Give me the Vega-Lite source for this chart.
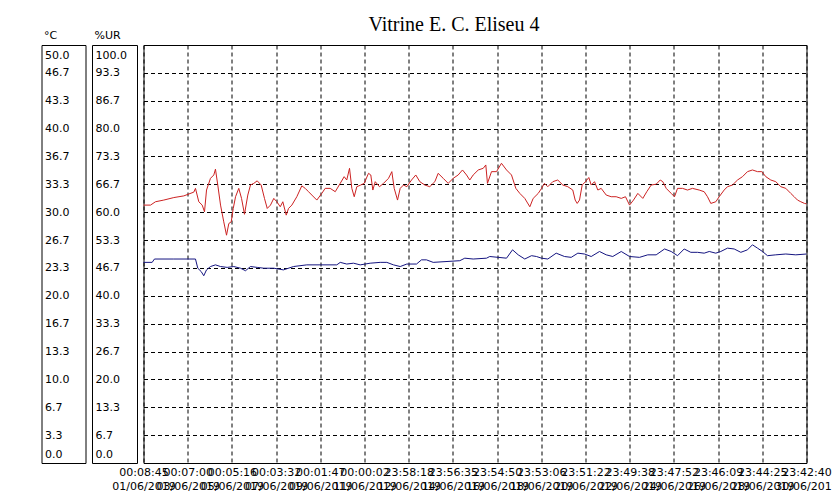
{
  "$schema": "https://vega.github.io/schema/vega-lite/v6.json",
  "background": "white",
  "padding": {"left": 40.5, "top": 14, "right": 0, "bottom": 0},
  "bounds": "flush",
  "spacing": 6.5,
  "config": {
    "font": "DejaVu Sans",
    "view": {"stroke": "black", "strokeWidth": 1},
    "axis": {"labelColor": "black", "titleColor": "black", "labelFont": "DejaVu Sans", "labelFontSize": 11}
  },
  "datasets": {
    "ur": [
      {"t":"2019-06-01T00:08:45","v":61.7},{"t":"2019-06-01T07:45","v":61.7},{"t":"2019-06-01T13:09","v":62.5},{"t":"2019-06-01T22:09","v":62.9},
      {"t":"2019-06-02T09:03","v":63.5},{"t":"2019-06-02T19:51","v":63.9},{"t":"2019-06-03T06:45","v":64.8},{"t":"2019-06-03T08:33","v":65.7},
      {"t":"2019-06-03T12:09","v":62.5},{"t":"2019-06-03T15:51","v":61.7},{"t":"2019-06-03T18:21","v":60.1},{"t":"2019-06-03T20:33","v":65.3},
      {"t":"2019-06-04T00:51","v":68.1},{"t":"2019-06-04T04:27","v":68.9},{"t":"2019-06-04T06:15","v":70.3},{"t":"2019-06-04T08:45","v":66.5},
      {"t":"2019-06-04T11:45","v":61.7},{"t":"2019-06-04T15:15","v":57.7},{"t":"2019-06-04T18:15","v":54.5},{"t":"2019-06-04T20:45","v":57.3},
      {"t":"2019-06-04T23:21","v":57.7},{"t":"2019-06-05T01:33","v":60.9},{"t":"2019-06-05T04:03","v":63.7},{"t":"2019-06-05T07:33","v":65.7},
      {"t":"2019-06-05T10:33","v":63.3},{"t":"2019-06-05T13:45","v":59.5},{"t":"2019-06-05T17:21","v":64.1},{"t":"2019-06-05T20:15","v":66.5},
      {"t":"2019-06-05T23:51","v":66.9},{"t":"2019-06-06T03:33","v":67.5},{"t":"2019-06-06T07:51","v":66.5},{"t":"2019-06-06T11:27","v":63.3},
      {"t":"2019-06-06T14:27","v":60.9},{"t":"2019-06-06T17:57","v":61.7},{"t":"2019-06-06T21:33","v":63.3},{"t":"2019-06-07T00:51","v":62.5},
      {"t":"2019-06-07T04:33","v":61.3},{"t":"2019-06-07T07:21","v":62.5},{"t":"2019-06-07T11:03","v":59.3},{"t":"2019-06-07T13:33","v":60.9},
      {"t":"2019-06-07T17:09","v":61.7},{"t":"2019-06-07T22:33","v":63.7},{"t":"2019-06-08T03:57","v":66.3},{"t":"2019-06-08T07:39","v":65.7},
      {"t":"2019-06-08T11:15","v":64.9},{"t":"2019-06-08T14:51","v":64.1},{"t":"2019-06-08T20:15","v":62.9},{"t":"2019-06-09T01:39","v":64.5},
      {"t":"2019-06-09T05:21","v":65.7},{"t":"2019-06-09T10:45","v":65.7},{"t":"2019-06-09T16:15","v":64.9},{"t":"2019-06-09T21:39","v":66.9},
      {"t":"2019-06-10T01:57","v":68.5},{"t":"2019-06-10T04:45","v":67.7},{"t":"2019-06-10T07:45","v":70.5},{"t":"2019-06-10T10:15","v":65.7},
      {"t":"2019-06-10T12:51","v":63.7},{"t":"2019-06-10T15:39","v":66.1},{"t":"2019-06-10T19:57","v":66.5},{"t":"2019-06-10T23:39","v":66.9},
      {"t":"2019-06-11T04:21","v":69.3},{"t":"2019-06-11T06:51","v":68.9},{"t":"2019-06-11T09:03","v":65.3},{"t":"2019-06-11T11:39","v":67.3},
      {"t":"2019-06-11T16:15","v":66.1},{"t":"2019-06-11T20:39","v":66.9},{"t":"2019-06-12T02:03","v":68.1},{"t":"2019-06-12T05:39","v":69.7},
      {"t":"2019-06-12T08:15","v":65.7},{"t":"2019-06-12T11:51","v":62.9},{"t":"2019-06-12T14:45","v":65.7},{"t":"2019-06-12T18:21","v":66.5},
      {"t":"2019-06-12T21:57","v":66.1},{"t":"2019-06-13T03:03","v":67.7},{"t":"2019-06-13T07:39","v":68.9},{"t":"2019-06-13T12:03","v":67.3},
      {"t":"2019-06-13T17:27","v":66.5},{"t":"2019-06-13T22:51","v":66.1},{"t":"2019-06-14T04:21","v":67.3},{"t":"2019-06-14T07:57","v":69.3},
      {"t":"2019-06-14T13:27","v":68.1},{"t":"2019-06-14T18:51","v":66.9},{"t":"2019-06-15T00:15","v":68.1},{"t":"2019-06-15T05:39","v":68.9},
      {"t":"2019-06-15T10:21","v":70.1},{"t":"2019-06-15T14:45","v":68.9},{"t":"2019-06-15T18:15","v":67.7},{"t":"2019-06-15T21:57","v":68.9},
      {"t":"2019-06-16T03:27","v":70.1},{"t":"2019-06-16T08:51","v":70.5},{"t":"2019-06-16T11:39","v":71.3},{"t":"2019-06-16T13:27","v":66.9},
      {"t":"2019-06-16T17:51","v":69.7},{"t":"2019-06-16T23:15","v":69.7},{"t":"2019-06-17T04:39","v":71.7},{"t":"2019-06-17T10:09","v":70.1},
      {"t":"2019-06-17T15:33","v":68.9},{"t":"2019-06-17T20:15","v":65.7},{"t":"2019-06-18T00:33","v":64.5},{"t":"2019-06-18T05:57","v":63.3},
      {"t":"2019-06-18T11:27","v":61.3},{"t":"2019-06-18T15:03","v":63.3},{"t":"2019-06-18T20:33","v":64.5},{"t":"2019-06-19T00:09","v":65.7},
      {"t":"2019-06-19T03:21","v":66.9},{"t":"2019-06-19T06:57","v":66.1},{"t":"2019-06-19T12:21","v":67.3},{"t":"2019-06-19T17:45","v":67.7},
      {"t":"2019-06-19T23:15","v":66.5},{"t":"2019-06-20T04:39","v":66.1},{"t":"2019-06-20T10:03","v":65.3},{"t":"2019-06-20T12:39","v":62.9},
      {"t":"2019-06-20T14:51","v":62.1},{"t":"2019-06-20T17:21","v":62.9},{"t":"2019-06-20T20:15","v":66.5},{"t":"2019-06-20T23:51","v":67.3},
      {"t":"2019-06-21T03:27","v":68.3},{"t":"2019-06-21T06:03","v":66.5},{"t":"2019-06-21T09:39","v":67.3},{"t":"2019-06-21T13:15","v":65.3},
      {"t":"2019-06-21T16:51","v":65.7},{"t":"2019-06-21T22:21","v":64.1},{"t":"2019-06-22T03:45","v":63.7},{"t":"2019-06-22T09:09","v":63.7},
      {"t":"2019-06-22T14:39","v":63.3},{"t":"2019-06-22T19:15","v":63.7},{"t":"2019-06-22T23:39","v":61.7},{"t":"2019-06-23T03:57","v":62.9},
      {"t":"2019-06-23T08:39","v":64.5},{"t":"2019-06-23T14:03","v":63.3},{"t":"2019-06-23T18:21","v":64.9},{"t":"2019-06-23T23:09","v":66.5},
      {"t":"2019-06-24T04:33","v":66.7},{"t":"2019-06-24T08:57","v":67.7},{"t":"2019-06-24T11:45","v":67.3},{"t":"2019-06-24T15:27","v":65.7},
      {"t":"2019-06-24T20:51","v":64.5},{"t":"2019-06-25T00:27","v":63.7},{"t":"2019-06-25T03:45","v":65.7},{"t":"2019-06-25T09:09","v":65.7},
      {"t":"2019-06-25T14:33","v":65.3},{"t":"2019-06-25T19:57","v":65.7},{"t":"2019-06-26T03:15","v":65.3},{"t":"2019-06-26T08:39","v":64.9},
      {"t":"2019-06-26T12:15","v":63.7},{"t":"2019-06-26T15:51","v":62.1},{"t":"2019-06-26T21:15","v":62.5},{"t":"2019-06-27T00:57","v":63.7},
      {"t":"2019-06-27T06:21","v":65.3},{"t":"2019-06-27T09:57","v":66.1},{"t":"2019-06-27T15:21","v":66.5},{"t":"2019-06-27T20:51","v":67.7},
      {"t":"2019-06-28T02:15","v":68.5},{"t":"2019-06-28T07:39","v":69.7},{"t":"2019-06-28T13:03","v":70.1},{"t":"2019-06-28T18:33","v":69.7},
      {"t":"2019-06-28T23:09","v":69.7},{"t":"2019-06-29T03:33","v":68.5},{"t":"2019-06-29T08:57","v":67.7},{"t":"2019-06-29T14:21","v":67.3},
      {"t":"2019-06-29T19:51","v":66.1},{"t":"2019-06-30T01:15","v":65.7},{"t":"2019-06-30T06:39","v":64.5},{"t":"2019-06-30T10:21","v":63.7},
      {"t":"2019-06-30T13:57","v":62.9},{"t":"2019-06-30T17:33","v":62.5},{"t":"2019-06-30T21:33","v":62.1},{"t":"2019-06-30T23:42:40","v":62.0}
    ],
    "temp": [
      {"t":"2019-06-01T00:08:45","v":24.0},{"t":"2019-06-01T09:33","v":24.0},{"t":"2019-06-01T12:03","v":24.4},{"t":"2019-06-02T09:03","v":24.4},
      {"t":"2019-06-03T08:33","v":24.4},{"t":"2019-06-03T11:03","v":23.3},{"t":"2019-06-03T14:45","v":22.9},{"t":"2019-06-03T17:33","v":22.4},
      {"t":"2019-06-03T20:33","v":23.1},{"t":"2019-06-04T00:51","v":23.5},{"t":"2019-06-04T06:15","v":23.7},{"t":"2019-06-04T11:45","v":23.5},
      {"t":"2019-06-04T18:57","v":23.4},{"t":"2019-06-05T02:09","v":23.5},{"t":"2019-06-05T09:27","v":23.3},{"t":"2019-06-05T14:51","v":23.0},
      {"t":"2019-06-05T20:15","v":23.5},{"t":"2019-06-06T03:33","v":23.4},{"t":"2019-06-06T10:45","v":23.3},{"t":"2019-06-06T21:33","v":23.3},
      {"t":"2019-06-07T08:03","v":23.1},{"t":"2019-06-07T18:57","v":23.5},{"t":"2019-06-08T09:21","v":23.7},{"t":"2019-06-09T17:57","v":23.7},
      {"t":"2019-06-09T21:39","v":24.0},{"t":"2019-06-10T04:45","v":23.8},{"t":"2019-06-10T12:03","v":23.9},{"t":"2019-06-10T19:21","v":23.7},
      {"t":"2019-06-11T06:09","v":23.9},{"t":"2019-06-11T17:03","v":24.0},{"t":"2019-06-12T00:15","v":24.0},{"t":"2019-06-12T07:27","v":23.7},
      {"t":"2019-06-12T14:45","v":23.5},{"t":"2019-06-12T21:57","v":23.8},{"t":"2019-06-13T08:27","v":23.8},{"t":"2019-06-13T13:51","v":24.3},
      {"t":"2019-06-13T19:15","v":24.3},{"t":"2019-06-14T02:33","v":24.0},{"t":"2019-06-15T07:27","v":24.2},{"t":"2019-06-15T12:51","v":24.5},
      {"t":"2019-06-15T21:57","v":24.4},{"t":"2019-06-16T12:27","v":24.5},{"t":"2019-06-16T15:57","v":24.7},{"t":"2019-06-17T10:09","v":24.5},
      {"t":"2019-06-17T16:39","v":25.5},{"t":"2019-06-17T22:51","v":24.9},{"t":"2019-06-18T05:57","v":24.4},{"t":"2019-06-18T13:15","v":24.8},
      {"t":"2019-06-18T18:39","v":24.7},{"t":"2019-06-19T00:09","v":24.5},{"t":"2019-06-19T06:57","v":24.4},{"t":"2019-06-19T16:03","v":25.1},
      {"t":"2019-06-20T01:03","v":24.7},{"t":"2019-06-20T08:21","v":24.6},{"t":"2019-06-20T15:33","v":25.1},{"t":"2019-06-20T22:45","v":25.0},
      {"t":"2019-06-21T06:03","v":24.7},{"t":"2019-06-21T15:03","v":25.3},{"t":"2019-06-21T22:21","v":24.9},{"t":"2019-06-22T05:27","v":24.7},
      {"t":"2019-06-22T14:39","v":25.3},{"t":"2019-06-22T23:39","v":24.7},{"t":"2019-06-23T10:27","v":24.6},{"t":"2019-06-23T19:27","v":24.9},
      {"t":"2019-06-24T04:33","v":24.9},{"t":"2019-06-24T13:39","v":25.6},{"t":"2019-06-24T20:51","v":25.3},{"t":"2019-06-25T03:45","v":24.8},
      {"t":"2019-06-25T10:57","v":25.6},{"t":"2019-06-25T18:09","v":25.2},{"t":"2019-06-26T01:27","v":25.2},{"t":"2019-06-26T08:39","v":25.1},
      {"t":"2019-06-26T14:09","v":25.3},{"t":"2019-06-26T21:15","v":25.1},{"t":"2019-06-27T02:39","v":25.3},{"t":"2019-06-27T09:57","v":25.7},
      {"t":"2019-06-27T17:15","v":25.6},{"t":"2019-06-28T00:27","v":25.2},{"t":"2019-06-28T07:39","v":25.5},{"t":"2019-06-28T13:03","v":26.1},
      {"t":"2019-06-28T18:33","v":25.7},{"t":"2019-06-28T23:57","v":25.3},{"t":"2019-06-29T05:21","v":24.8},{"t":"2019-06-29T14:21","v":24.9},
      {"t":"2019-06-30T01:15","v":25.0},{"t":"2019-06-30T12:03","v":24.9},{"t":"2019-06-30T23:42:40","v":25.0}
    ]
  },
  "hconcat": [
    {
      "width": 44,
      "height": 418,
      "data": {"name": "temp"},
      "mark": {"type": "point", "opacity": 0},
      "encoding": {
        "y": {
          "field": "v", "type": "quantitative",
          "scale": {"domain": [0, 50], "nice": false, "zero": false},
          "axis": {
            "title": "°C", "orient": "left",
            "values": [0, 3.3333333, 6.6666667, 10, 13.3333333, 16.6666667, 20, 23.3333333, 26.6666667, 30, 33.3333333, 36.6666667, 40, 43.3333333, 46.6666667, 50],
            "format": ".1f", "domain": false, "ticks": false, "tickSize": 0, "grid": false,
            "labelAlign": "left", "labelPadding": -3, "labelFlush": true, "labelFlushOffset": -4,
            "labelOverlap": false, "labelBound": false,
            "titleAngle": 0, "titleAlign": "left", "titleBaseline": "bottom", "titleX": 2, "titleY": -5,
            "titleFont": "DejaVu Sans", "titleFontSize": 11, "titleFontWeight": "normal"
          }
        }
      }
    },
    {
      "width": 45,
      "height": 418,
      "data": {"name": "temp"},
      "mark": {"type": "point", "opacity": 0},
      "encoding": {
        "y": {
          "field": "v", "type": "quantitative",
          "scale": {"domain": [0, 100], "nice": false, "zero": false},
          "axis": {
            "title": "%UR", "orient": "left",
            "values": [0, 6.6666667, 13.3333333, 20, 26.6666667, 33.3333333, 40, 46.6666667, 53.3333333, 60, 66.6666667, 73.3333333, 80, 86.6666667, 93.3333333, 100],
            "format": ".1f", "domain": false, "ticks": false, "tickSize": 0, "grid": false,
            "labelAlign": "left", "labelPadding": -3, "labelFlush": true, "labelFlushOffset": -4,
            "labelOverlap": false, "labelBound": false,
            "titleAngle": 0, "titleAlign": "left", "titleBaseline": "bottom", "titleX": 2, "titleY": -5,
            "titleFont": "DejaVu Sans", "titleFontSize": 11, "titleFontWeight": "normal"
          }
        }
      }
    },
    {
      "width": 663,
      "height": 418,
      "title": {
        "text": "Vitrine E. C. Eliseu 4",
        "font": "Liberation Serif", "fontSize": 20, "fontWeight": "normal", "color": "black",
        "anchor": "start", "frame": "group", "dx": 225, "offset": -6, "baseline": "alphabetic"
      },
      "layer": [
        {
          "data": {"name": "ur"},
          "mark": {"type": "line", "color": "#cc2222", "strokeWidth": 1},
          "encoding": {
            "x": {
              "field": "t", "type": "temporal",
              "scale": {"domain": [{"year": 2019, "month": 6, "date": 1, "hours": 0, "minutes": 8, "seconds": 45}, {"year": 2019, "month": 6, "date": 30, "hours": 23, "minutes": 42, "seconds": 40}], "nice": false},
              "axis": {
                "title": null, "orient": "bottom",
                "values": [
                  {"year": 2019, "month": 6, "date": 1, "hours": 0, "minutes": 8, "seconds": 45},
                  {"year": 2019, "month": 6, "date": 3, "hours": 0, "minutes": 7, "seconds": 0},
                  {"year": 2019, "month": 6, "date": 5, "hours": 0, "minutes": 5, "seconds": 16},
                  {"year": 2019, "month": 6, "date": 7, "hours": 0, "minutes": 3, "seconds": 32},
                  {"year": 2019, "month": 6, "date": 9, "hours": 0, "minutes": 1, "seconds": 47},
                  {"year": 2019, "month": 6, "date": 11, "hours": 0, "minutes": 0, "seconds": 2},
                  {"year": 2019, "month": 6, "date": 12, "hours": 23, "minutes": 58, "seconds": 18},
                  {"year": 2019, "month": 6, "date": 14, "hours": 23, "minutes": 56, "seconds": 35},
                  {"year": 2019, "month": 6, "date": 16, "hours": 23, "minutes": 54, "seconds": 50},
                  {"year": 2019, "month": 6, "date": 18, "hours": 23, "minutes": 53, "seconds": 6},
                  {"year": 2019, "month": 6, "date": 20, "hours": 23, "minutes": 51, "seconds": 22},
                  {"year": 2019, "month": 6, "date": 22, "hours": 23, "minutes": 49, "seconds": 38},
                  {"year": 2019, "month": 6, "date": 24, "hours": 23, "minutes": 47, "seconds": 52},
                  {"year": 2019, "month": 6, "date": 26, "hours": 23, "minutes": 46, "seconds": 9},
                  {"year": 2019, "month": 6, "date": 28, "hours": 23, "minutes": 44, "seconds": 25},
                  {"year": 2019, "month": 6, "date": 30, "hours": 23, "minutes": 42, "seconds": 40}
                ],
                "labelExpr": "[timeFormat(datum.value, '%H:%M:%S'), timeFormat(datum.value, '%d/%m/%Y')]",
                "labelLineHeight": 14, "labelPadding": 3, "labelAlign": "center",
                "labelOverlap": false, "labelFlush": false, "labelBound": false,
                "domain": false, "ticks": false, "tickSize": 0,
                "grid": true, "gridColor": "black", "gridDash": [4, 3], "gridWidth": 1, "gridOpacity": 1
              }
            },
            "y": {
              "field": "v", "type": "quantitative",
              "scale": {"domain": [0, 100], "nice": false, "zero": false},
              "axis": {
                "title": null, "orient": "left",
                "values": [6.6666667, 13.3333333, 20, 26.6666667, 33.3333333, 40, 46.6666667, 53.3333333, 60, 66.6666667, 73.3333333, 80, 86.6666667, 93.3333333],
                "labels": false, "domain": false, "ticks": false, "tickSize": 0,
                "grid": true, "gridColor": "black", "gridDash": [4, 3], "gridWidth": 1, "gridOpacity": 1
              }
            }
          }
        },
        {
          "data": {"name": "temp"},
          "mark": {"type": "line", "color": "#141480", "strokeWidth": 1},
          "encoding": {
            "x": {"field": "t", "type": "temporal"},
            "y": {
              "field": "v", "type": "quantitative",
              "scale": {"domain": [0, 50], "nice": false, "zero": false},
              "axis": null
            }
          }
        }
      ],
      "resolve": {"scale": {"y": "independent"}}
    }
  ]
}
